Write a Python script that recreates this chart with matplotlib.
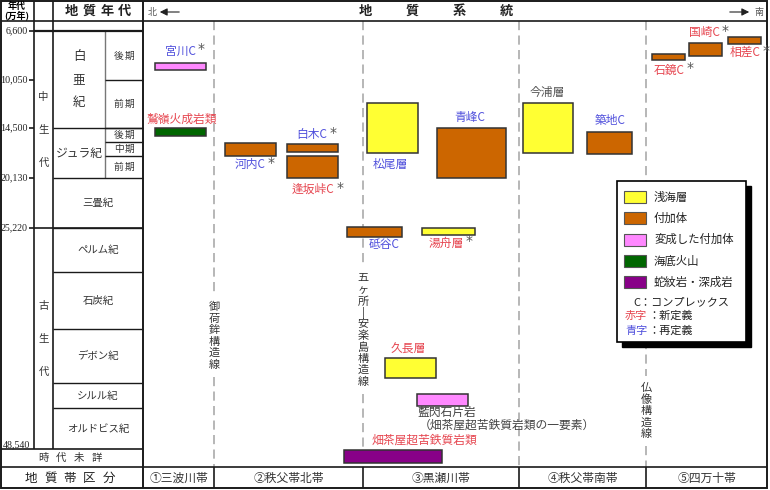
import numpy as np
import matplotlib
matplotlib.use('Agg')
import matplotlib.pyplot as plt
from matplotlib.patches import Rectangle
from matplotlib.transforms import IdentityTransform

plt.rcParams['font.family'] = ['Noto Sans CJK JP', 'DejaVu Sans']

# ---- data ----
# age ticks on the left column (万年)
age_ticks = [6600, 10050, 14500, 20130, 25220, 48540]
tick_labels = ['6,600', '10,050', '14,500', '20,130', '25,220', '48,540']

eras = ['中生代', '古生代']
era_bounds = [6600, 25220, 48540]

periods = ['白亜紀', 'ジュラ紀', '三畳紀', 'ペルム紀', '石炭紀', 'デボン紀', 'シルル紀', 'オルドビス紀']
period_bounds = [6600, 14500, 20130, 25220, 29890, 35890, 41920, 44380, 48540]

epochs = ['後期', '前期', '後期', '中期', '前期']
epoch_bounds = [6600, 10050, 14500, 16350, 17410, 20130]

zones = ['①三波川帯', '②秩父帯北帯', '③黒瀬川帯', '④秩父帯南帯', '⑤四万十帯']
faults = ['御荷鉾構造線', '五ヶ所|安楽島構造線', '仏像構造線']

kinds = ['浅海層', '付加体', '変成した付加体', '海底火山', '蛇紋岩・深成岩']
kind_colors = ['#ffff33', '#cc6600', '#ff88ff', '#006600', '#880088']

units = ['宮川C', '鷲嶺火成岩類', '河内C', '白木C', '逢坂峠C', '松尾層', '青峰C', '砥谷C',
         '湯舟層', '久長層', '藍閃石片岩', '畑茶屋超苦鉄質岩類', '今浦層', '築地C',
         '石鏡C', '国崎C', '相差C']
unit_kind = ['変成した付加体', '海底火山', '付加体', '付加体', '付加体', '浅海層', '付加体', '付加体',
             '浅海層', '浅海層', '変成した付加体', '蛇紋岩・深成岩', '浅海層', '付加体',
             '付加体', '付加体', '付加体']
# age range of each unit (万年). 畑茶屋 is 時代未詳 -> put in the band below 48,540
age_top = [8850, 14500, 16430, 16500, 17410, 12180, 14500, 25120,
           25220, 39130, 43000, 48640, 12180, 15030, 8220, 7440, 7020]
age_bottom = [9350, 15560, 17410, 17110, 20130, 17180, 20130, 26170,
              25960, 41360, 44180, 49940, 17180, 17260, 8640, 8360, 7520]
# 'new' = 赤字(新定義), 're' = 青字(再定義), '' = none
status = ['re', 'new', 're', 're', 'new', 're', 're', 're',
          'new', 'new', '', 'new', '', 're', 'new', 'new', 'new']
starred = [1, 0, 1, 1, 1, 0, 0, 0, 1, 0, 0, 0, 0, 0, 1, 1, 1]

# ---- layout (chart pixels, x from left / y from top) ----
col_left = [155, 155, 225, 287, 287, 367, 437, 347, 422, 385, 417, 344, 523, 587, 652, 689, 728]
col_right = [206, 206, 276, 338, 338, 418, 506, 402, 475, 436, 468, 442, 573, 632, 685, 722, 761]
label_x = [180, 182, 250, 312, 313, 390, 470, 384, 446, 408, 417, 424, 547, 610, 669, 704, 745]
label_side = [1, 1, -1, 1, -1, -1, 1, -1, -1, 1, -1, 1, 1, 1, -1, 1, -1]
label_gap = [12, 9, 8, 9, 11, 11, 11, 8, 8, 9, 7, 10, 10, 12, 10, 10, 8]

zone_edges = [143, 214, 363, 519, 646, 767]
fault_x = [214, 363, 646]
fault_center = [336, 330, 411]

# piecewise age scale: each period band has its own height
SCALE_AGES = [4000, 6600, 10050, 14500, 16350, 17410, 20130, 25220, 29890,
              35890, 41920, 44380, 48540, 50340, 52640]
SCALE_ROWS = [0, 31, 80, 128, 142, 156, 178, 228, 272, 329, 383, 408, 449, 467, 490]


def to_row(a):
    return np.interp(a, SCALE_AGES, SCALE_ROWS)


def to_age(r):
    return np.interp(r, SCALE_ROWS, SCALE_AGES)


BLUE = '#5050dc'
RED = '#e64650'
GRAY = '#555555'
LINE = '#1a1a1a'
txt_color = {'new': RED, 're': BLUE, '': GRAY}

fig = plt.figure(figsize=(7.7, 4.9), dpi=100)
frame = fig.add_axes([0, 0, 1, 1])
frame.set_xlim(0, 770)
frame.set_ylim(490, 0)
frame.axis('off')

ax = fig.add_axes([0, 0, 1, 1])
ax.set_xlim(0, 770)
ax.set_yscale('function', functions=(to_row, to_age))
ax.set_ylim(SCALE_AGES[-1], SCALE_AGES[0])
ax.axis('off')


def column_text(x, yc, s, step, **kw):
    # vertical text, one character at a time
    n = len(s)
    for k, ch in enumerate(s):
        frame.text(x, yc + (k - (n - 1) / 2) * step, ch, ha='center', va='center', **kw)


def row_text(xc, y, s, step, **kw):
    n = len(s)
    for k, ch in enumerate(s):
        frame.text(xc + (k - (n - 1) / 2) * step, y, ch, ha='center', va='center', **kw)


# ---- frame lines ----
frame.add_patch(Rectangle((1, 1), 766, 487, fill=False, ec=LINE, lw=1.4))
frame.hlines([21, 467], 1, 767, color=LINE, lw=1.2)
frame.hlines(449, 1, 143, color=LINE, lw=1.2)
frame.vlines(143, 1, 488, color=LINE, lw=1.4)
frame.vlines([34, 53], 1, 449, color=LINE, lw=1.2)
frame.vlines(105, to_row(6600), to_row(20130), color='#777777', lw=1.0)
frame.hlines(to_row(6600), 34, 143, color=LINE, lw=1.6)
frame.hlines(to_row(era_bounds[1]), 34, 143, color=LINE, lw=1.2)
frame.hlines(to_row(np.array(period_bounds[1:-1])), 53, 143, color=LINE, lw=1.0)
frame.hlines(to_row(np.array(epoch_bounds[1:-1])), 105, 143, color=LINE, lw=1.0)
frame.vlines(zone_edges[1:-1], 467, 488, color=LINE, lw=1.2)

# ---- left table ----
frame.text(17, 6.5, '年代', ha='center', va='center', fontsize=6.5, fontweight='bold')
frame.text(17, 15, '(万年)', ha='center', va='center', fontsize=6.5, fontweight='bold')
row_text(98, 11, '地質年代', 17.5, fontsize=9.5, fontweight='bold', color='#222222')

for a, lab in zip(age_ticks[:-1], tick_labels[:-1]):
    frame.hlines(to_row(a), 29, 34, color=LINE, lw=1.2)
    frame.text(28, to_row(a), lab, ha='right', va='center', fontsize=7.2,
               family='Liberation Serif', color='#222222')
frame.text(3, 445, tick_labels[-1], ha='left', va='center', fontsize=7.2,
           family='Liberation Serif', color='#222222')

for k, e in enumerate(eras):
    yc = (to_row(era_bounds[k]) + to_row(era_bounds[k + 1])) / 2
    column_text(43.5, yc, e, 33, fontsize=7.5, color='#333333')

for k, p in enumerate(periods):
    yc = (to_row(period_bounds[k]) + to_row(period_bounds[k + 1])) / 2
    if k == 0:
        column_text(79, yc, p, 23, fontsize=9, color='#333333')
    elif k == 1:
        frame.text(79, yc, p, ha='center', va='center', fontsize=8.5, color='#333333')
    else:
        frame.text(98, yc, p, ha='center', va='center', fontsize=7.5, color='#333333')

for k, ep in enumerate(epochs):
    yc = (to_row(epoch_bounds[k]) + to_row(epoch_bounds[k + 1])) / 2
    row_text(124, yc, ep, 11, fontsize=7, color='#333333')

row_text(70, 458, '時代未詳', 18, fontsize=7.5, color='#333333')
row_text(70, 478, '地質帯区分', 19.5, fontsize=9, color='#222222')

# ---- header ----
frame.text(152, 12, '北', ha='center', va='center', fontsize=6.5, color=GRAY)
frame.annotate('', xy=(157, 12), xytext=(182, 12),
               arrowprops=dict(arrowstyle='-|>', color='#222222', lw=0.8, mutation_scale=11))
frame.annotate('', xy=(752, 12), xytext=(727, 12),
               arrowprops=dict(arrowstyle='-|>', color='#222222', lw=0.8, mutation_scale=11))
frame.text(759, 13, '南', ha='center', va='center', fontsize=6.5, color=GRAY)
row_text(436, 11, '地質系統', 47, fontsize=9.5, fontweight='bold', color='#222222')

# ---- zone footer ----
for k, z in enumerate(zones):
    xc = (zone_edges[k] + zone_edges[k + 1]) / 2
    frame.text(xc, 478, z, ha='center', va='center', fontsize=8.5, color='#333333')

# ---- dashed boundaries ----
for x in zone_edges[1:-1]:
    if x in fault_x:
        k = fault_x.index(x)
        half = len(faults[k]) * 11.5 / 2 + 6
        segs = [(21, fault_center[k] - half), (fault_center[k] + half, 467)]
        column_text(x, fault_center[k], faults[k], 11.5, fontsize=8, color='#333333')
    else:
        segs = [(21, 467)]
    for y0, y1 in segs:
        frame.plot([x, x], [y0, y1], color='#aaaaaa', lw=1.2, dashes=(5.5, 3.2), zorder=1)

# ---- bars ----
for i in range(len(units)):
    c = kind_colors[kinds.index(unit_kind[i])]
    ax.bar(col_left[i], age_bottom[i] - age_top[i], width=col_right[i] - col_left[i],
           bottom=age_top[i], align='edge', color=c, edgecolor='#333333', linewidth=1.1,
           zorder=3)

star_texts = []
for i in range(len(units)):
    side = label_side[i]
    yref = age_top[i] if side > 0 else age_bottom[i]
    if units[i] == '藍閃石片岩':
        ax.annotate(units[i], xy=(label_x[i], yref), xytext=(0, -label_gap[i]),
                    textcoords='offset pixels', ha='left', va='center',
                    fontsize=8.5, color='#444444')
        ax.annotate('（畑茶屋超苦鉄質岩類の一要素）', xy=(label_x[i], yref),
                    xytext=(2, -label_gap[i] - 12.5), textcoords='offset pixels',
                    ha='left', va='center', fontsize=8.5, color='#444444')
        continue
    t = ax.annotate(units[i], xy=(label_x[i], yref), xytext=(0, side * label_gap[i]),
                    textcoords='offset pixels', ha='center', va='center',
                    fontsize=8.5, color=txt_color[status[i]])
    if starred[i]:
        star_texts.append(t)

# ---- legend ----
frame.add_patch(Rectangle((622, 186), 129, 161, color='black', zorder=5))
frame.add_patch(Rectangle((617, 181), 129, 161, fc='white', ec='black', lw=1.2, zorder=6))
for k, (name, c) in enumerate(zip(kinds, kind_colors)):
    y = 197 + k * 21.3
    frame.add_patch(Rectangle((624, y - 6), 22, 12, fc=c, ec='#555555', lw=0.8, zorder=7))
    frame.text(654, y, name, ha='left', va='center', fontsize=8.2, color='#222222', zorder=7)
frame.text(633, 302, 'C：コンプレックス', ha='left', va='center', fontsize=8, color='#222222', zorder=7)
frame.text(625, 316, '赤字', ha='left', va='center', fontsize=8, color=RED, zorder=7)
frame.text(648, 316, '：新定義', ha='left', va='center', fontsize=8, color='#222222', zorder=7)
frame.text(625, 331, '青字', ha='left', va='center', fontsize=8, color=BLUE, zorder=7)
frame.text(648, 331, '：再定義', ha='left', va='center', fontsize=8, color='#222222', zorder=7)

# asterisks after the labels (need text extents)
fig.canvas.draw()
r = fig.canvas.get_renderer()
for t in star_texts:
    bb = t.get_window_extent(r)
    fig.text(bb.x1 + 2, bb.y1 + 2, '*', transform=IdentityTransform(), ha='left', va='top',
             fontsize=10, family='DejaVu Sans', color=GRAY)

fig.savefig('out.png', dpi=100)
